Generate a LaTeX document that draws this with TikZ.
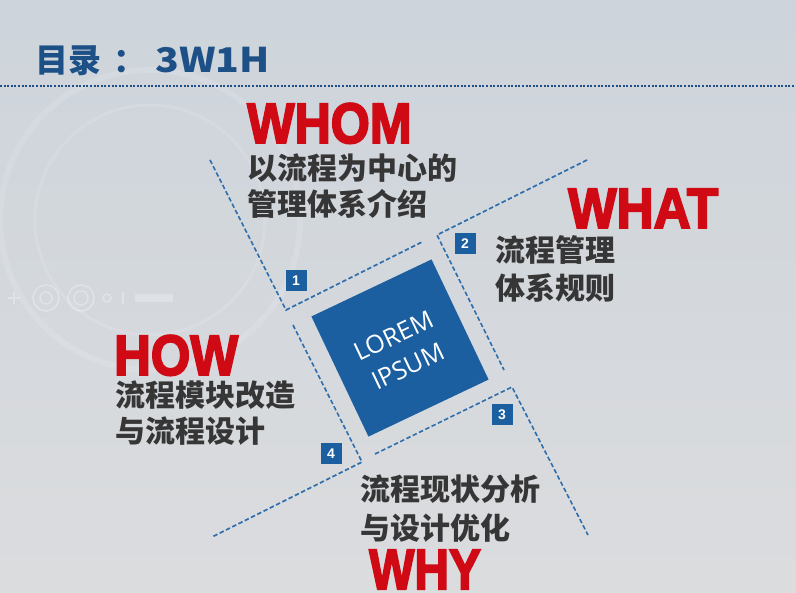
\documentclass[tikz,border=0pt]{standalone}
\usepackage{fontspec}
\usepackage{graphicx}
\setmainfont{Liberation Sans}
\newfontfamily\cjk{Noto Sans CJK SC}
\newfontfamily\heavyfont{Liberation Sans}[BoldFeatures={FakeBold=3.5}]
\newfontfamily\opensans{Open Sans}
\definecolor{bgtop}{HTML}{CDD4DB}
\definecolor{bgbot}{HTML}{DBDCDE}
\definecolor{sqblue}{HTML}{1B5FA0}
\definecolor{dashblue}{HTML}{2E6EAC}
\definecolor{titleblue}{HTML}{1D5086}
\definecolor{headred}{HTML}{D00A14}
\definecolor{txtgray}{HTML}{363636}
\tikzset{
  heading/.style={anchor=base west, inner sep=0pt, text=headred, font=\heavyfont\bfseries\fontsize{57}{57}\selectfont},
  body/.style={anchor=base west, inner sep=0pt, text=txtgray, font=\cjk\bfseries\fontsize{30}{30}\selectfont},
  badge/.style={fill=sqblue, text=white, minimum size=21pt, inner sep=0pt, font=\bfseries\fontsize{14}{14}\selectfont},
  guide/.style={draw=dashblue, line width=1.6pt, dash pattern=on 4.5pt off 2.5pt},
  deco/.style={draw=white, opacity=0.3, line width=1.5pt},
}
\begin{document}
\begin{tikzpicture}[x=1pt,y=-1pt]
\useasboundingbox (0,0) rectangle (796,593);
\shade[top color=bgtop, bottom color=bgbot] (0,0) rectangle (796,593);
% faint background decoration
\draw[deco, opacity=0.12, line width=6pt] (150,220) circle (150);
\draw[deco, opacity=0.12, line width=3pt] (150,220) circle (115);
\draw[deco] (8,298) -- (20,298) (14,292) -- (14,304);
\draw[deco] (46,298) circle (13) (46,298) circle (6);
\draw[deco] (81,298) circle (13) (81,298) circle (7);
\draw[deco] (107,298) circle (4);
\draw[deco] (123,292) -- (123,304);
\fill[white, opacity=0.25] (135,294) rectangle (173,302);
% title
\node[anchor=base west, inner sep=0pt, text=titleblue, font=\cjk\bfseries\fontsize{33}{33}\selectfont] (title) at (35,73) {目录};
\node[anchor=base west, inner sep=0pt, text=titleblue, font=\cjk\bfseries\fontsize{33}{33}\selectfont] (colon) at (113,73) {：};
\node[anchor=base west, inner sep=0pt, text=titleblue, font=\cjk\bfseries\fontsize{34}{34}\selectfont] (titlesub) at (155,73) {\scalebox{1.15}[1]{3W1H}};
\coordinate (tl) at (0,86);
\coordinate (tr) at (796,86);
\draw[titleblue, line width=2pt, dash pattern=on 2pt off 1.6pt] (tl) -- (tr);
% guide lines
\coordinate (a1) at (210,160); \coordinate (c1) at (286,310); \coordinate (e1) at (422,242);
\coordinate (a2) at (587,160); \coordinate (c2) at (437,235); \coordinate (e2) at (504,370);
\coordinate (a3) at (375,454); \coordinate (c3) at (512,387); \coordinate (e3) at (588,535);
\coordinate (a4) at (293,325); \coordinate (c4) at (362,462); \coordinate (e4) at (212,537);
\draw[guide] (a1) -- (c1) -- (e1);
\draw[guide] (a2) -- (c2) -- (e2);
\draw[guide] (a3) -- (c3) -- (e3);
\draw[guide] (a4) -- (c4) -- (e4);
% center square
\node[fill=sqblue, minimum size=133pt, inner sep=0pt, rotate=25.4] (sq) at (400,348) {};
\node[rotate=25.4, text=white, align=center, font=\opensans\fontsize{25}{34}\selectfont] (lorem) at (401,351) {LOREM\\IPSUM};
% badges
\node[badge] (b1) at (296,281) {1};
\node[badge] (b2) at (465,244) {2};
\node[badge] (b3) at (502,415) {3};
\node[badge] (b4) at (331,454) {4};
% WHOM
\node[heading] (whom) at (247,143) {\scalebox{0.88}[1]{WHOM}};
\node[body] (whom1) at (247,180) {以流程为中心的};
\node[body] (whom2) at (247,216) {管理体系介绍};
% WHAT
\node[heading] (what) at (568,228) {\scalebox{0.90}[1]{WHAT}};
\node[body] (what1) at (495,262) {流程管理};
\node[body] (what2) at (495,300) {体系规则};
% HOW
\node[heading] (how) at (114,375) {\scalebox{0.89}[1]{HOW}};
\node[body] (how1) at (115,407) {流程模块改造};
\node[body] (how2) at (115,443) {与流程设计};
% WHY
\node[body] (why1) at (360,501) {流程现状分析};
\node[body] (why2) at (360,540) {与设计优化};
\node[heading] (why) at (369,589) {\scalebox{0.84}[1]{WHY}};
\end{tikzpicture}
\end{document}
